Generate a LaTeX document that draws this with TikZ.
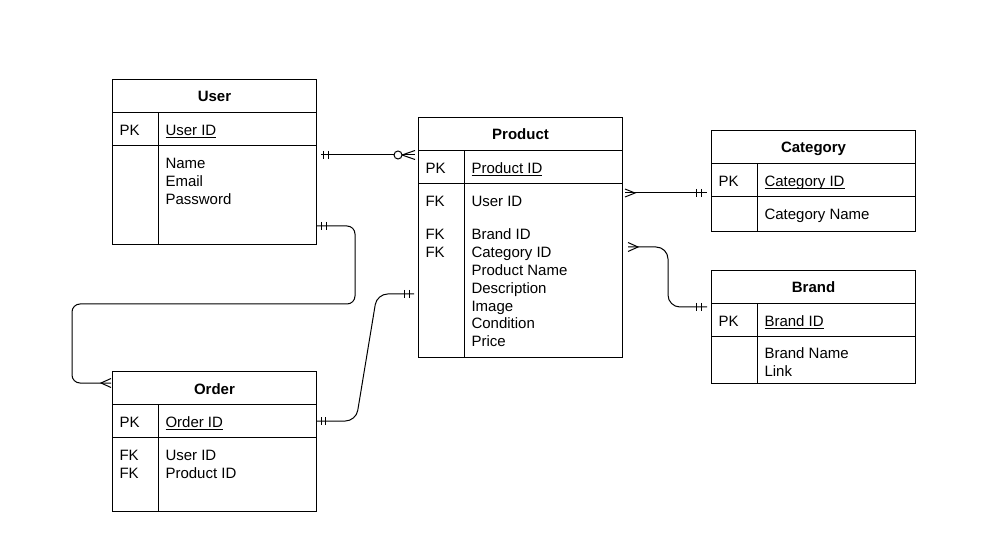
\documentclass[tikz,border=0pt]{standalone}
\usepackage{fontspec}
\setmainfont{Liberation Sans}
\usetikzlibrary{calc}
\newcommand\ertbl[5]{%
  \node[tbl, minimum height=#4*0.75pt, anchor=north west] (#1) at (#2,#3) {};
  \draw ($(#1.north west)+(0,33.5)$) -- ($(#1.north east)+(0,33.5)$);
  \draw ($(#1.north west)+(0,66.5)$) -- ($(#1.north east)+(0,66.5)$);
  \draw ($(#1.north west)+(46,33.5)$) -- ($(#1.south west)+(46,0)$);
  \node[ttl] (#1-title) at ($(#1.north)+(0,23)$) {#5};
  \node[txt] (#1-pk) at ($(#1.north west)+(7,56.2)$) {PK};
}
\newcommand\ulx[1]{\underline{\smash{#1}}}
\begin{document}
\begin{tikzpicture}[x=0.75pt,y=-0.75pt,line width=0.75pt,
  tbl/.style={draw, line width=0.75pt, minimum width=153pt, inner sep=0pt},
  txt/.style={anchor=base west, inner sep=0pt, font=\fontsize{11.25pt}{13.5pt}\selectfont},
  ttl/.style={anchor=base, inner sep=0pt, font=\fontsize{11.25pt}{13.5pt}\selectfont\bfseries},
  conn/.style={line width=0.75pt}]
\useasboundingbox (0,0) rectangle (987,548);

% tables
\ertbl{user}{112}{79}{165}{User}
\ertbl{product}{418}{117}{240}{Product}
\ertbl{category}{711}{130}{101}{Category}
\ertbl{brand}{711}{270}{113}{Brand}
\ertbl{order}{112}{371}{140}{Order}

% primary keys
\node[txt] (user-id) at ($(user.north west)+(53,56.2)$) {\ulx{User ID}};
\node[txt] (product-id) at ($(product.north west)+(53,56.2)$) {\ulx{Product ID}};
\node[txt] (category-id) at ($(category.north west)+(53,56.2)$) {\ulx{Category ID}};
\node[txt] (brand-id) at ($(brand.north west)+(53,56.2)$) {\ulx{Brand ID}};
\node[txt] (order-id) at ($(order.north west)+(53,56.2)$) {\ulx{Order ID}};

% user fields
\foreach \n/\dy/\t in {name/83/Name, email/101/Email, password/119/Password}
  \node[txt] (user-\n) at ($(user.north west)+(53,\dy+6.2)$) {\t};

% product fields
\foreach \n/\dy/\t in {uid/83/User ID, bid/116/Brand ID, cid/134/Category ID,
    pname/152/Product Name, desc/170/Description, img/188/Image,
    cond/205/Condition, price/223/Price}
  \node[txt] (product-\n) at ($(product.north west)+(53,\dy+6.2)$) {\t};
\foreach \n/\dy in {fk1/83, fk2/116, fk3/134}
  \node[txt] (product-\n) at ($(product.north west)+(7,\dy+6.2)$) {FK};

% category fields
\node[txt] (category-name) at ($(category.north west)+(53,89.2)$) {Category Name};

% brand fields
\node[txt] (brand-name) at ($(brand.north west)+(53,88.2)$) {Brand Name};
\node[txt] (brand-link) at ($(brand.north west)+(53,106.2)$) {Link};

% order fields
\node[txt] (order-uid) at ($(order.north west)+(53,89.2)$) {User ID};
\node[txt] (order-pid) at ($(order.north west)+(53,107.2)$) {Product ID};
\node[txt] (order-fk1) at ($(order.north west)+(7,89.2)$) {FK};
\node[txt] (order-fk2) at ($(order.north west)+(7,107.2)$) {FK};

% ---- connector 1: User -- Product (one to zero-or-many)
\coordinate (c1a) at ($(user.north east)+(4,76)$);
\coordinate (c1b) at ($(product.north west)+(-3,38)$);
\draw[conn] (c1a) -- (c1b);
\draw[conn] ($(c1a)+(2,-4)$) -- ++(0,8);
\draw[conn] ($(c1a)+(7,-4)$) -- ++(0,8);
\draw[conn] ($(c1b)+(0,-4.5)$) -- ($(c1b)+(-13,0)$) -- ($(c1b)+(0,4.5)$);
\draw[conn, fill=white] ($(c1b)+(-17,0)$) circle[radius=3pt];

% ---- connector 2: User -- Order
\coordinate (c2a) at ($(user.north east)+(0,147)$);
\coordinate (c2b) at ($(order.north west)+(-1,12)$);
\draw[conn, rounded corners=6pt] (c2a) -- ++(38,0) |- ($(c2b)+(-39,-79)$) |- (c2b);
\draw[conn] ($(c2a)+(4,-4)$) -- ++(0,8);
\draw[conn] ($(c2a)+(9,-4)$) -- ++(0,8);
\draw[conn] ($(c2b)+(0,-4.5)$) -- ($(c2b)+(-10,0)$) -- ($(c2b)+(0,4.5)$);

% ---- connector 3: Order -- Product
\coordinate (c3a) at ($(order.north east)+(0,50)$);
\coordinate (c3b) at ($(product.north west)+(-4,177)$);
\draw[conn, rounded corners=8pt] (c3a) -- ++(39,0) -- ($(c3b)+(-37,0)$) -- (c3b);
\draw[conn] ($(c3a)+(4,-4)$) -- ++(0,8);
\draw[conn] ($(c3a)+(8,-4)$) -- ++(0,8);
\draw[conn] ($(c3b)+(-10,-4)$) -- ++(0,8);
\draw[conn] ($(c3b)+(-5,-4)$) -- ++(0,8);

% ---- connector 4: Product -- Category
\coordinate (c4a) at ($(product.north east)+(2,76)$);
\coordinate (c4b) at ($(category.north west)+(-4,63)$);
\draw[conn] (c4a) -- (c4b);
\draw[conn] ($(c4a)+(0,-4)$) -- ($(c4a)+(10,0)$) -- ($(c4a)+(0,4)$);
\draw[conn] ($(c4b)+(-11,-4)$) -- ++(0,8);
\draw[conn] ($(c4b)+(-6,-4)$) -- ++(0,8);

% ---- connector 5: Product -- Brand
\coordinate (c5a) at ($(product.north east)+(5,130)$);
\coordinate (c5b) at ($(brand.north west)+(-4,37)$);
\draw[conn, rounded corners=9pt] (c5a) -- ++(40,0) |- (c5b);
\draw[conn] ($(c5a)+(0,-4.5)$) -- ($(c5a)+(10,0)$) -- ($(c5a)+(0,4.5)$);
\draw[conn] ($(c5b)+(-11,-4)$) -- ++(0,8);
\draw[conn] ($(c5b)+(-6,-4)$) -- ++(0,8);
\end{tikzpicture}
\end{document}
